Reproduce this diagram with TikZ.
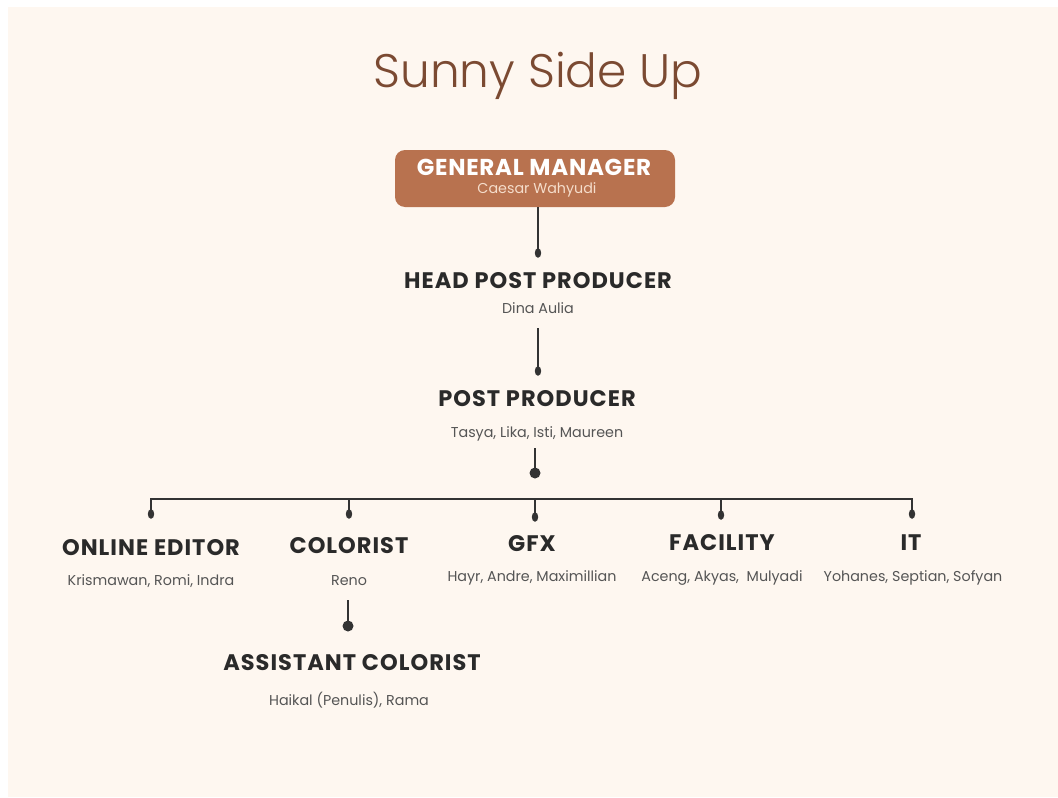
\documentclass[tikz,border=0pt]{standalone}
\usepackage{fontspec}
\setmainfont{Poppins}
\newfontfamily\titlefont{Poppins Light}
\newfontfamily\headfont{Poppins Bold}[LetterSpace=4.5]
\newfontfamily\gmfont{Poppins Bold}[LetterSpace=3.2]
\definecolor{cream}{HTML}{FEF7F0}
\definecolor{titlebrown}{HTML}{7B4A32}
\definecolor{boxbrown}{HTML}{B8724F}
\definecolor{boxsub}{HTML}{F5DDCB}
\definecolor{ink}{HTML}{2A2A2A}
\definecolor{namegray}{HTML}{555555}
\definecolor{wire}{HTML}{333333}
\tikzset{
  role/.style={font=\headfont\fontsize{22.5}{24}\selectfont, text=ink, inner sep=0pt, anchor=base},
  people/.style={font=\fontsize{14.3}{16}\selectfont, text=namegray, inner sep=0pt, anchor=base},
  wireline/.style={draw=wire, line width=2pt},
  smalldot/.style={fill=wire},
}
\begin{document}
\begin{tikzpicture}[x=1pt,y=-1pt]
\useasboundingbox (0,0) rectangle (1058,798);
\fill[white] (0,0) rectangle (1058,798);
\fill[cream] (8,7) rectangle (1058,797);
% title
\node[font=\titlefont\fontsize{47}{50}\selectfont, text=titlebrown, inner sep=0pt, anchor=base] (title) at (538,87) {Sunny Side Up};
% general manager
\node[fill=boxbrown, rounded corners=10pt, minimum width=280pt, minimum height=57pt, inner sep=0pt] (gm) at (535,178.5) {};
\node[font=\gmfont\fontsize{23}{24}\selectfont, text=white, inner sep=0pt, anchor=base] (gmt) at (534,175) {GENERAL MANAGER};
\node[font=\fontsize{14.3}{16}\selectfont, text=boxsub, inner sep=0pt, anchor=base] (gmn) at (537,193) {Caesar Wahyudi};
% head post producer
\node[role] (hpp) at (538,288) {HEAD POST PRODUCER};
\node[people] (hppn) at (538,313) {Dina Aulia};
% post producer
\node[role] (pp) at (537,406) {POST PRODUCER};
\node[people] (ppn) at (537,437) {Tasya, Lika, Isti, Maureen};
% level 3
\node[role] (oe) at (151,555) {ONLINE EDITOR};
\node[people] (oen) at (151,585) {Krismawan, Romi, Indra};
\node[role] (col) at (349,553) {COLORIST};
\node[people] (coln) at (349,585) {Reno};
\node[role] (ac) at (352,670) {ASSISTANT COLORIST};
\node[people] (acn) at (349,705) {Haikal (Penulis), Rama};
\node[role] (gfx) at (532,551) {GFX};
\node[people] (gfxn) at (532,581) {Hayr, Andre, Maximillian};
\node[role] (fac) at (722,550) {FACILITY};
\node[people] (facn) at (722,581) {Aceng, Akyas,\ \ Mulyadi};
\node[role] (it) at (911,550) {IT};
\node[people] (itn) at (913,581) {Yohanes, Septian, Sofyan};
% connector points
\coordinate (d1) at (538,253);
\coordinate (d2top) at (538,328);
\coordinate (d2) at (538,371);
\coordinate (d3top) at (535,448);
\coordinate (d3) at (535,473);
\coordinate (barL) at (151,499);
\coordinate (barR) at (912,499);
\coordinate (t1) at (151,514);
\coordinate (t2) at (349,514);
\coordinate (t3) at (535,517);
\coordinate (t4) at (721,515);
\coordinate (t5) at (912,514);
\coordinate (d4top) at (348,600);
\coordinate (d4) at (348,626);
% wires
\draw[wireline] (gm.south -| d1) -- (d1);
\draw[wireline] (d2top) -- (d2);
\draw[wireline] (d3top) -- (d3);
\draw[wireline] (barL |- t1) -- (barL) -- (barR) -- (t5);
\draw[wireline] (t2 |- barL) -- (t2);
\draw[wireline] (t3 |- barL) -- (t3);
\draw[wireline] (t4 |- barL) -- (t4);
\draw[wireline] (d4top) -- (d4);
% dots
\foreach \p in {d1,d2,t1,t2,t3,t4,t5} \fill[smalldot] (\p) ellipse (3.2 and 4.8);
\fill[smalldot] (d3) circle (5.5);
\fill[smalldot] (d4) circle (5.5);
\end{tikzpicture}
\end{document}
